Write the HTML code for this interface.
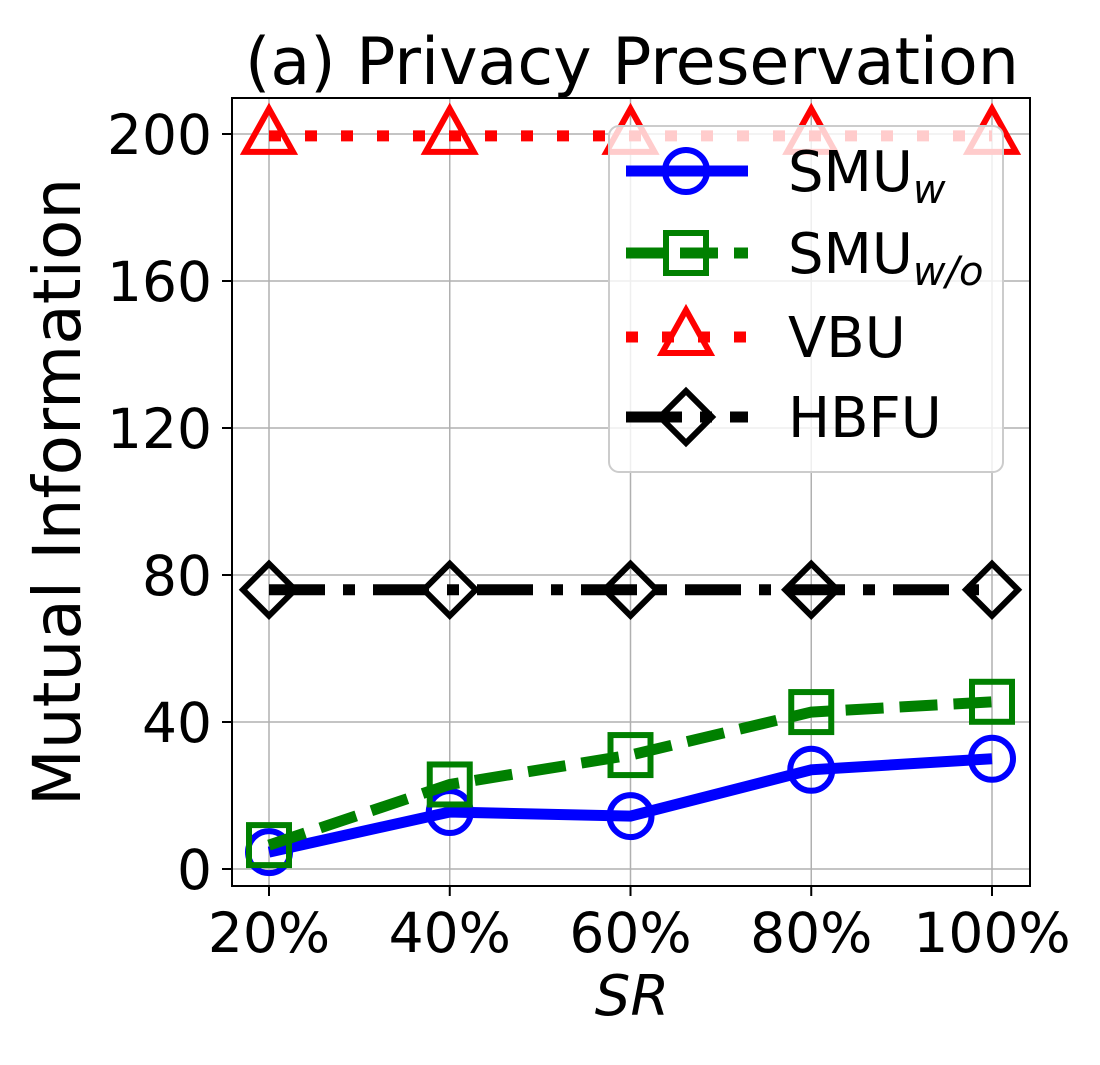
<!DOCTYPE html>
<html><head><meta charset="utf-8"><style>
body{margin:0;background:#fff}
svg text{font-family:"DejaVu Sans","Liberation Sans",sans-serif}
</style></head><body>
<svg id="c" width="1100" height="1060" viewBox="0 0 1100 1060">
<text x="632" y="84" font-size="65" text-anchor="middle">(a) Privacy Preservation</text>
<g id="grid"></g>
<g id="series"></g>
<rect x="232" y="98" width="798" height="788" fill="none" stroke="#000" stroke-width="2"/>
<g id="ticks"></g>
<text x="632" y="1015" font-size="56" font-style="italic" text-anchor="middle">SR</text>
<text transform="translate(80,492) rotate(-90)" font-size="66" text-anchor="middle">Mutual Information</text>
<g id="legend">
<rect x="609" y="126" width="394" height="346" rx="10" fill="#fff" fill-opacity="0.8" stroke="#ccc" stroke-width="2"/>
</g>
</svg>
<script>
const categories=["20%","40%","60%","80%","100%"];
const yTicks=[0,40,80,120,160,200];
const smuW=[4.6,15.5,14.4,27,30];
const smuWo=[6.5,23,31,42.7,45.5];
const vbu=[199.5,199.5,199.5,199.5,199.5];
const hbfu=[76,76,76,76,76];
const NS="http://www.w3.org/2000/svg";
function xS(i){return 269+i*180.75;}
function yS(v){return 869-v*3.675;}
function mk(tag,attrs,parent){const e=document.createElementNS(NS,tag);for(const k in attrs)e.setAttribute(k,attrs[k]);parent.appendChild(e);return e;}
const grid=document.getElementById('grid'),ticks=document.getElementById('ticks'),ser=document.getElementById('series'),leg=document.getElementById('legend');
categories.forEach((c,i)=>{
 const g=mk('line',{x1:xS(i),x2:xS(i),y1:98,y2:886,stroke:'#b0b0b0','stroke-width':1.5},grid);
 
 
 mk('line',{x1:xS(i),x2:xS(i),y1:886,y2:896,stroke:'#000','stroke-width':2},ticks);
 const t=mk('text',{x:xS(i),y:952,'font-size':55,'text-anchor':'middle'},ticks);t.textContent=c;
 
 
});
yTicks.forEach(v=>{
 const g=mk('line',{x1:232,x2:1030,y1:yS(v),y2:yS(v),stroke:'#b0b0b0','stroke-width':1.5},grid);
 
 
 mk('line',{x1:222,x2:232,y1:yS(v),y2:yS(v),stroke:'#000','stroke-width':2},ticks);
 const t=mk('text',{x:212,y:yS(v)+20,'font-size':55,'text-anchor':'end'},ticks);t.textContent=v;
 
 
});
function marker(type,x,y,color,p){
 if(type==='o')return mk('circle',{cx:x,cy:y,r:21,fill:'none',stroke:color,'stroke-width':6},p);
 if(type==='s')return mk('rect',{x:x-20,y:y-20,width:40,height:40,fill:'none',stroke:color,'stroke-width':6},p);
 if(type==='^')return mk('polygon',{points:`${x},${y-27} ${x+24},${y+16} ${x-24},${y+16}`,fill:'none',stroke:color,'stroke-width':6},p);
 return mk('polygon',{points:`${x},${y-26} ${x+26},${y} ${x},${y+26} ${x-26},${y}`,fill:'none',stroke:color,'stroke-width':6},p);
}
const defs=[
 {name:'smu-w',data:smuW,color:'#0000ff',dash:'',m:'o'},
 {name:'smu-wo',data:smuWo,color:'#008000',dash:'38 16',m:'s'},
 {name:'vbu',data:vbu,color:'#ff0000',dash:'12 24',m:'^'},
 {name:'hbfu',data:hbfu,color:'#000',dash:'56 18 12 18',m:'D'}
];
defs.forEach(d=>{
 const g=mk('g',{},ser);
 
 
 const pts=d.data.map((v,i)=>xS(i)+','+yS(v)).join(' ');
 const l=mk('polyline',{points:pts,fill:'none',stroke:d.color,'stroke-width':11,'stroke-dasharray':d.dash},g);
 
 
 d.data.forEach((v,i)=>{const m=marker(d.m,xS(i),yS(v),d.color,g);
  
  });
});
const labels=[['SMU','w'],['SMU','w/o'],['VBU',''],['HBFU','']];
const ly=[171,253,337,417];
defs.forEach((d,i)=>{
 const g=mk('g',{},leg);
 
 
 mk('line',{x1:626,x2:748,y1:ly[i],y2:ly[i],stroke:d.color,'stroke-width':11,'stroke-dasharray':d.dash},g);
 marker(d.m,686,ly[i],d.color,g);
 const t=mk('text',{x:788,y:ly[i]+20,'font-size':56},g);
 t.textContent=labels[i][0];
 if(labels[i][1]){const s=mk('tspan',{'font-size':40,'font-style':'italic',dy:12},t);s.textContent=labels[i][1];}
});
</script>
</body></html>
